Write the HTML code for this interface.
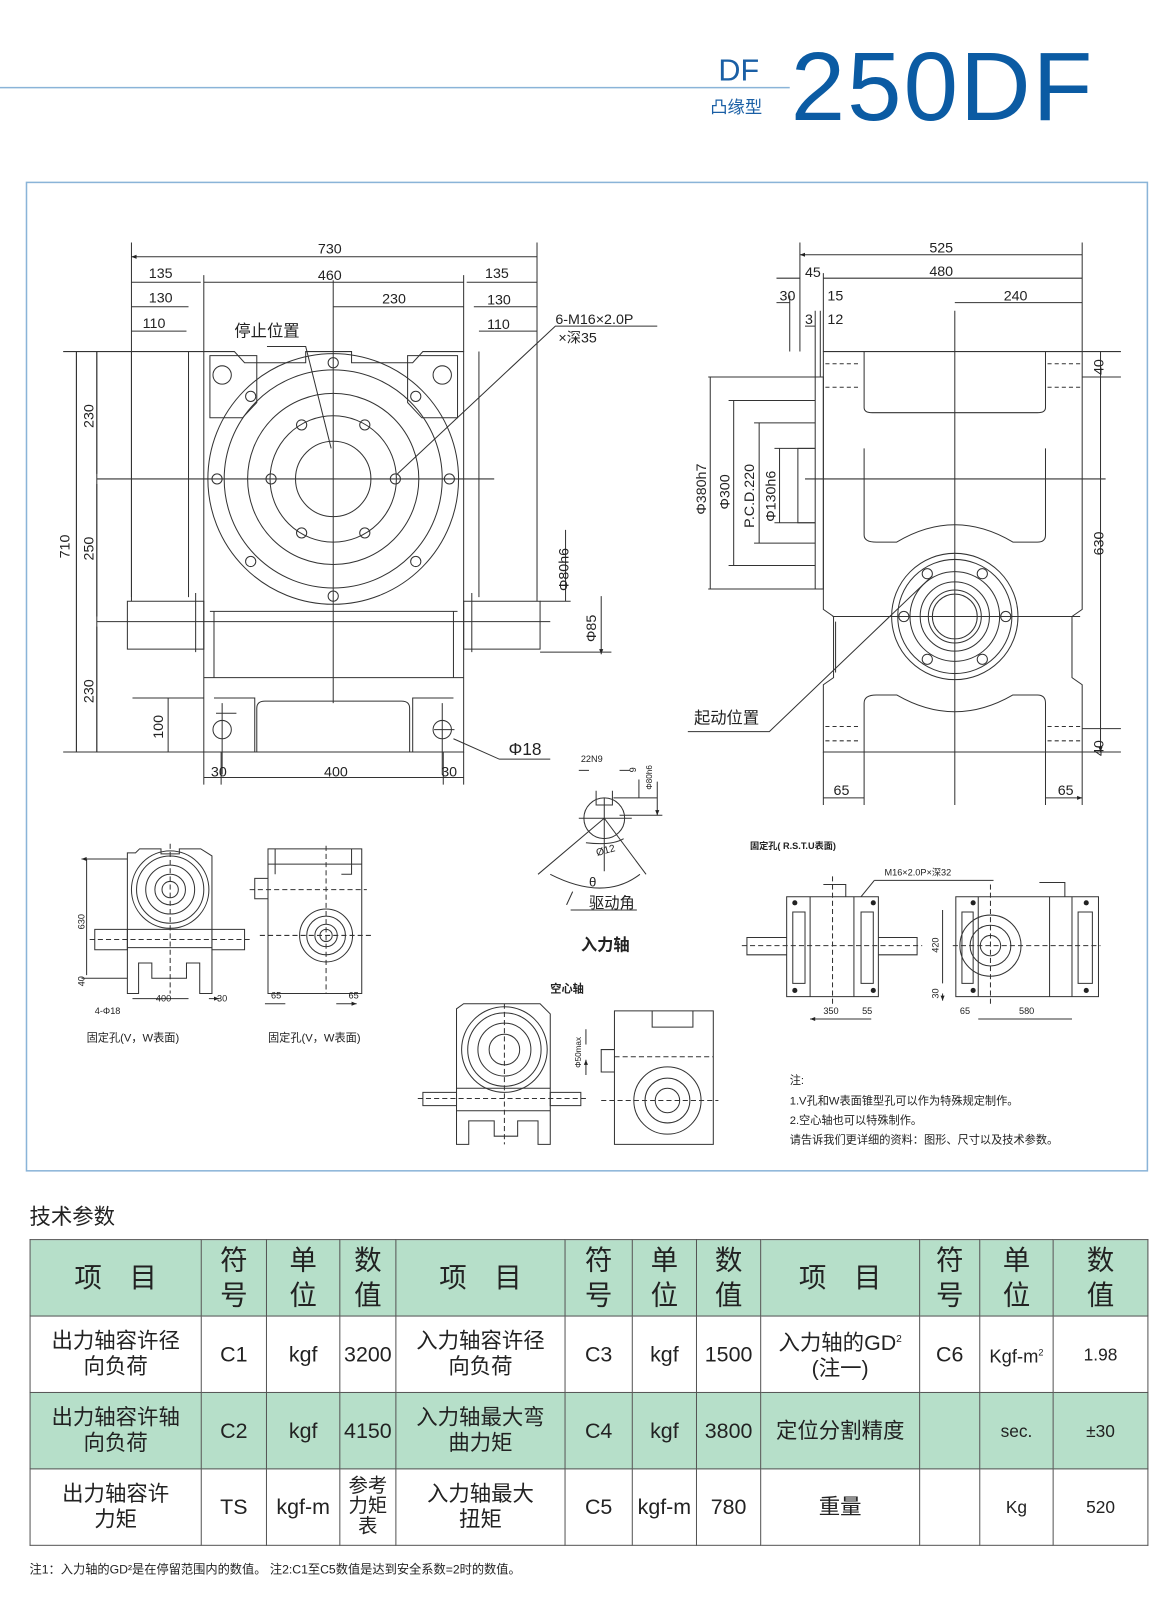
<!DOCTYPE html>
<html><head><meta charset="utf-8">
<style>
html,body{margin:0;padding:0;background:#fff;}
body{width:1174px;height:1599px;overflow:hidden;position:relative;font-family:"Liberation Sans","Noto Sans CJK SC",sans-serif;}
#w{position:absolute;left:0;top:0;width:1152px;height:1569px;transform:scale(1.019);transform-origin:0 0;}
svg text{font-family:"Liberation Sans","Noto Sans CJK SC",sans-serif;fill:#222;}
table{position:absolute;left:29px;top:1216px;border-collapse:collapse;table-layout:fixed;width:1097px;}
td{border:1.3px solid #555;text-align:center;vertical-align:middle;color:#222;font-size:21px;line-height:25px;height:74px;padding:0;}
tr.g td{background:#b6dfc9;}
tr.h td{font-size:27px;line-height:34px;}
</style></head><body><div id="w">
<svg width="1152" height="1569" viewBox="0 0 1152 1569" style="position:absolute;left:0;top:0">
<defs>
<marker id="a" viewBox="0 0 10 10" refX="10" refY="5" markerWidth="7" markerHeight="5" orient="auto-start-reverse"><path d="M0,1 L10,5 L0,9 z" fill="#222"/></marker>
</defs>
<!-- header -->
<line x1="0" y1="86" x2="775" y2="86" stroke="#8ab4d8" stroke-width="1.5"/>
<text x="705" y="79" font-size="30" style="fill:#1a5fa5" textLength="40">DF</text>
<text x="697" y="111" font-size="17" style="fill:#1a5fa5">凸缘型</text>
<text x="776" y="118" font-size="96" style="fill:#0b5ba3" textLength="296">250DF</text>
<rect x="26" y="179" width="1100" height="970" fill="none" stroke="#8ab4d8" stroke-width="1.5"/>

<g stroke="#333" stroke-width="1" fill="none">
<!-- FRONT VIEW -->
<path d="M200,345 H230 L240,356 H300 V345 H345 V356 H405 L415,345 H455 V738 H200 Z"/>
<path d="M206,349 H252 V395 L238,410 H206 Z M449,349 H400 V395 L414,410 H449 Z"/>
<circle cx="218" cy="368" r="9"/><circle cx="434" cy="368" r="9"/>
<circle cx="327" cy="470" r="123"/><circle cx="327" cy="470" r="107"/><circle cx="327" cy="470" r="84"/><circle cx="327" cy="470" r="62"/><circle cx="327" cy="470" r="37"/>
<g>
<circle cx="327" cy="356" r="5"/><circle cx="327" cy="585" r="5"/><circle cx="213" cy="470" r="5"/><circle cx="441" cy="470" r="5"/>
<circle cx="246" cy="389" r="5"/><circle cx="408" cy="389" r="5"/><circle cx="246" cy="551" r="5"/><circle cx="408" cy="551" r="5"/>
<circle cx="266" cy="470" r="5"/><circle cx="388" cy="470" r="5"/><circle cx="296" cy="417" r="5"/><circle cx="358" cy="417" r="5"/><circle cx="296" cy="523" r="5"/><circle cx="358" cy="523" r="5"/>
</g>
<path d="M206,600 H449 M200,665 H455 M210,600 V665 M445,600 V665"/>
<path d="M210,685 H250 V738 M445,685 H405 V738 M252,738 V695 Q252,688 260,688 H394 Q402,688 402,695 V738"/>
<circle cx="218" cy="716" r="9"/><circle cx="434" cy="716" r="9"/>
<path d="M129,345 V586 M185,345 V586 M125,590 H200 V637 H125 Z M192,582 V640 M455,590 H530 V637 H455 Z M470,345 V586 M527,345 V586 M463,582 V640"/>
<path d="M327,275 V690 M95,470 H485 M95,610 H540 M212,700 H232 M218,690 V760 M426,716 H446 M434,690 V760"/>
<!-- front dims -->
<path d="M129,238 V590 M527,238 V590 M200,270 V345 M455,270 V345 M62,345 H200 M62,738 H200 M75,345 V738 M95,345 V738"/>
<path d="M129,252 H527 M129,277 H197 M200,277 H455 M458,277 H527 M129,301 H185 M327,301 H455 M465,301 H527 M129,325 H183 M470,325 H527 M75,345 V738 M95,345 V465 M95,475 V605 M95,615 V738 M165,685 V738 M200,763 H455 M555,520 V590 M590,585 V642" marker-start="url(#a)" marker-end="url(#a)"/>
<path d="M130,685 H200 M200,738 V770 M217,738 V770 M435,738 V770 M455,738 V770 M530,590 H560 M530,640 H600"/>
<path d="M262,340 H300 L325,440 M390,465 L545,320 H645 M445,725 L490,745 H540"/>
<!-- SIDE VIEW -->
<path d="M808,345 H1062 V598 L1052,605 V665 L1062,672 V738 H808 V672 L818,665 V605 L808,598 Z"/>
<path d="M848,345 V400 Q848,405 856,405 H1018 Q1026,405 1026,400 V345 M848,440 V525 Q848,532 860,532 H880 Q937,498 994,532 H1018 Q1026,532 1026,525 V440"/>
<path d="M848,738 V690 Q848,682 860,682 H880 Q937,715 994,682 H1018 Q1026,682 1026,690 V738 M820,610 V660 M1052,610 V660"/>
<path d="M800,370 H808 V578 H800 Z M783,440 H800 V513 H783 Z"/>
<g stroke-dasharray="4,3"><path d="M810,357 H845 M810,380 H845 M1028,357 H1060 M1028,380 H1060 M810,713 H845 M810,727 H845 M1028,713 H1060 M1028,727 H1060"/></g>
<circle cx="937" cy="605" r="62"/><circle cx="937" cy="605" r="56"/><circle cx="937" cy="605" r="44"/><circle cx="937" cy="605" r="34"/><circle cx="937" cy="605" r="26"/><circle cx="937" cy="605" r="22"/>
<g><circle cx="887" cy="605" r="5"/><circle cx="987" cy="605" r="5"/><circle cx="910" cy="563" r="5"/><circle cx="964" cy="563" r="5"/><circle cx="910" cy="647" r="5"/><circle cx="964" cy="647" r="5"/></g>
<path d="M937,305 V790 M790,470 H1085 M817,605 H1060"/>
<path d="M785,238 V345 M1062,238 V345 M808,268 V345 M775,290 V345 M800,305 V370 M805,305 V370 M695,370 H808 M715,393 H800 M740,415 H800 M760,440 H800 M760,513 H800 M740,533 H800 M715,555 H800 M695,578 H808 M1062,345 H1100 M1062,370 H1100 M1062,715 H1100 M1062,738 H1100 M808,738 V790 M848,738 V790 M1026,738 V790 M1062,738 V790"/>
<path d="M785,250 H1062 M808,273 H1062 M937,297 H1062 M697,370 V578 M720,393 V555 M745,415 V533 M765,440 V513 M1080,370 V715 M808,783 H848 M1026,783 H1062" marker-start="url(#a)" marker-end="url(#a)"/>
<path d="M762,273 H785 M762,297 H775 M790,320 H800 M1080,345 V370 M1080,715 V738" marker-end="url(#a)"/>
<path d="M675,718 H755 L915,565"/>
<!-- INPUT SHAFT -->
<circle cx="593" cy="803" r="20"/>
<path d="M585,776 V790 H601 V776 M593,783 V855 M568,803 H620 M593,803 L528,858 M593,803 L634,858 M540,858 Q593,885 628,858 M575,827 Q600,830 612,823 M556,888 L562,875 M560,893 H625 M602,783 H645 M608,800 H650"/>
<path d="M568,756 H578 M618,756 H608 M627,765 V783 M645,767 V800" marker-end="url(#a)"/>
<!-- SMALL VIEW A -->
<path d="M125,837 H133 L137,833 H158 V838 H176 V833 H197 L208,840 V975 H196 V945 H183 V960 H149 V945 H136 V975 H125 Z"/>
<circle cx="167" cy="873" r="38"/><circle cx="167" cy="873" r="33"/><circle cx="167" cy="873" r="24"/><circle cx="167" cy="873" r="15"/><circle cx="167" cy="873" r="8"/>
<path d="M125,912 H208 M125,930 H208 M93,912 H125 V932 H93 Z M208,912 H240 V932 H208 Z"/>
<g stroke-dasharray="5,3"><path d="M88,922 H245 M167,828 V975"/></g>
<path d="M80,843 H125 M80,960 H125 M85,843 V957 M130,980 H185 M205,980 H215" marker-start="url(#a)" marker-end="url(#a)"/>
<!-- SMALL VIEW B -->
<path d="M263,833 H355 V975 H263 Z M263,848 H355 M270,858 V833 M335,858 H345 V833 M250,862 H263 V882 H250 Z"/>
<circle cx="320" cy="918" r="26"/><circle cx="320" cy="918" r="19"/><circle cx="320" cy="918" r="11"/><circle cx="320" cy="918" r="6"/>
<g stroke-dasharray="5,3"><path d="M245,873 H360 M320,830 V975 M255,918 H365"/></g>
<path d="M260,985 H280 M330,985 H350" marker-end="url(#a)"/>
<!-- HOLLOW -->
<path d="M448,990 L455,985 H530 L540,995 V1123 H528 V1100 H508 V1115 H485 V1100 H460 V1123 H448 Z"/>
<circle cx="495" cy="1030" r="42"/><circle cx="495" cy="1030" r="36"/><circle cx="495" cy="1030" r="26"/><circle cx="495" cy="1030" r="15"/>
<path d="M415,1072 H448 V1085 H415 Z M540,1072 H570 V1085 H540 Z M448,1068 H540 M448,1090 H540"/>
<g stroke-dasharray="5,3"><path d="M410,1078 H575 M495,985 V1123"/></g>
<path d="M603,992 H700 V1123 H603 Z M640,992 V1008 H680 V992 M590,1030 H603 V1052 H590 Z"/>
<circle cx="655" cy="1080" r="33"/><circle cx="655" cy="1080" r="22"/><circle cx="655" cy="1080" r="12"/>
<g stroke-dasharray="5,3"><path d="M603,1037 H700 M590,1080 H705"/></g>
<path d="M575,1010 V1025 M575,1055 V1040" marker-end="url(#a)"/>
<!-- R.S.T.U views -->
<path d="M772,880 H862 V978 H772 Z M795,880 V978 M838,880 V978 M778,895 H790 V965 H778 Z M845,895 H857 V965 H845 Z M808,868 H830 V880 M733,920 H772 V937 H733 Z M862,920 H900 V937 H862 Z"/>
<g stroke-dasharray="5,3"><path d="M728,928 H905 M817,860 V985"/></g>
<path d="M938,880 H1078 V978 H938 Z M960,880 V978 M1030,880 V978 M1052,880 V978 M944,895 H955 V965 H944 Z M1058,895 H1072 V965 H1058 Z M1020,866 H1045 V880"/>
<circle cx="972" cy="928" r="30"/><circle cx="972" cy="928" r="20"/><circle cx="972" cy="928" r="10"/>
<g stroke-dasharray="5,3"><path d="M935,928 H1080 M972,868 V985"/></g>
<path d="M795,1000 H838 M838,1000 H855 M960,1000 H1052 M925,893 V965 M925,975 V982" marker-start="url(#a)" marker-end="url(#a)"/>
<path d="M858,864 H975 M858,864 L845,880"/>
</g>
<g fill="#222">
<circle cx="780" cy="886" r="2.5"/><circle cx="857" cy="886" r="2.5"/><circle cx="780" cy="972" r="2.5"/><circle cx="857" cy="972" r="2.5"/>
<circle cx="955" cy="886" r="2.5"/><circle cx="1066" cy="886" r="2.5"/><circle cx="955" cy="972" r="2.5"/><circle cx="1066" cy="972" r="2.5"/>
</g>

<!-- front labels -->
<g font-size="14">
<text x="312" y="249">730</text><text x="146" y="273">135</text><text x="312" y="275">460</text><text x="476" y="273">135</text>
<text x="146" y="297">130</text><text x="375" y="298">230</text><text x="478" y="299">130</text>
<text x="140" y="322">110</text><text x="478" y="323">110</text>
<text x="207" y="762">30</text><text x="318" y="762">400</text><text x="433" y="762">30</text>
<text x="545" y="318">6-M16×2.0P</text><text x="548" y="336">×深35</text>
<text x="499" y="741" font-size="17">Φ18</text>
<text transform="translate(68,548) rotate(-90)">710</text>
<text transform="translate(92,420) rotate(-90)">230</text>
<text transform="translate(92,550) rotate(-90)">250</text>
<text transform="translate(92,690) rotate(-90)">230</text>
<text transform="translate(160,725) rotate(-90)">100</text>
<text transform="translate(558,580) rotate(-90)">Φ80h6</text>
<text transform="translate(585,630) rotate(-90)">Φ85</text>
<!-- side labels -->
<text x="912" y="248">525</text><text x="790" y="272">45</text><text x="912" y="271">480</text>
<text x="765" y="295">30</text><text x="812" y="295">15</text><text x="985" y="295">240</text>
<text x="790" y="318">3</text><text x="812" y="318">12</text>
<text transform="translate(693,505) rotate(-90)">Φ380h7</text>
<text transform="translate(716,500) rotate(-90)">Φ300</text>
<text transform="translate(740,518) rotate(-90)">P.C.D.220</text>
<text transform="translate(761,512) rotate(-90)">Φ130h6</text>
<text transform="translate(1083,545) rotate(-90)">630</text>
<text transform="translate(1083,368) rotate(-90)">40</text>
<text transform="translate(1083,742) rotate(-90)">40</text>
<text x="818" y="780">65</text><text x="1038" y="780">65</text>
</g>
<text x="230" y="330" font-size="16">停止位置</text>
<text x="681" y="710" font-size="16">起动位置</text>
<text x="570" y="748" font-size="9">22N9</text>
<text transform="translate(624,758) rotate(-90)" font-size="9">9</text>
<text transform="translate(640,775) rotate(-90)" font-size="8">Φ80h6</text>
<text x="586" y="840" font-size="10" transform="rotate(-15 586 840)">Ø12</text>
<text x="578" y="870" font-size="13">θ</text>
<text x="578" y="891" font-size="15">驱动角</text>
<text x="570" y="933" font-size="16" font-weight="bold">入力轴</text>
<text x="540" y="974" font-size="11" font-weight="bold">空心轴</text>
<text transform="translate(570,1048) rotate(-90)" font-size="8">Φ50max</text>
<g font-size="9">
<text transform="translate(83,912) rotate(-90)">630</text>
<text transform="translate(83,968) rotate(-90)">40</text>
<text x="153" y="983">400</text><text x="213" y="983">30</text>
<text x="93" y="995">4-Φ18</text>
<text x="266" y="980">65</text><text x="342" y="980">65</text>
<text x="808" y="995">350</text><text x="846" y="995">55</text>
<text x="942" y="995">65</text><text x="1000" y="995">580</text>
<text transform="translate(921,935) rotate(-90)">420</text>
<text transform="translate(921,980) rotate(-90)">30</text>
<text x="868" y="859">M16×2.0P×深32</text>
<text x="736" y="833" font-weight="bold">固定孔( R.S.T.U表面)</text>
</g>
<text x="85" y="1022" font-size="11">固定孔(V，W表面)</text>
<text x="263" y="1022" font-size="11">固定孔(V，W表面)</text>
<g font-size="11"><text x="775" y="1064">注:</text>
<text x="775" y="1084">1.V孔和W表面锥型孔可以作为特殊规定制作。</text>
<text x="775" y="1103">2.空心轴也可以特殊制作。</text>
<text x="775" y="1122">请告诉我们更详细的资料：图形、尺寸以及技术参数。</text></g>
<text x="29" y="1201" font-size="21">技术参数</text>
<text x="29" y="1544" font-size="12">注1：入力轴的GD²是在停留范围内的数值。   注2:C1至C5数值是达到安全系数=2时的数值。</text>
</svg>
<table>
<colgroup><col style="width:168px"><col style="width:64px"><col style="width:72px"><col style="width:55px"><col style="width:166px"><col style="width:66px"><col style="width:63px"><col style="width:63px"><col style="width:156px"><col style="width:59px"><col style="width:72px"><col style="width:93px"></colgroup>
<tr class="g h"><td>项　目</td><td>符<br>号</td><td>单<br>位</td><td>数<br>值</td><td>项　目</td><td>符<br>号</td><td>单<br>位</td><td>数<br>值</td><td>项　目</td><td>符<br>号</td><td>单<br>位</td><td>数<br>值</td></tr>
<tr><td>出力轴容许径<br>向负荷</td><td>C1</td><td>kgf</td><td>3200</td><td>入力轴容许径<br>向负荷</td><td>C3</td><td>kgf</td><td>1500</td><td>入力轴的GD<sup style="font-size:10px">2</sup><br>(注一)</td><td>C6</td><td style="font-size:18px">Kgf-m<sup style="font-size:9px">2</sup></td><td style="font-size:17px">1.98</td></tr>
<tr class="g"><td>出力轴容许轴<br>向负荷</td><td>C2</td><td>kgf</td><td>4150</td><td>入力轴最大弯<br>曲力矩</td><td>C4</td><td>kgf</td><td>3800</td><td>定位分割精度</td><td></td><td style="font-size:17px">sec.</td><td style="font-size:17px">±30</td></tr>
<tr><td>出力轴容许<br>力矩</td><td>TS</td><td>kgf-m</td><td style="font-size:19px;line-height:20px">参考<br>力矩<br>表</td><td>入力轴最大<br>扭矩</td><td>C5</td><td>kgf-m</td><td>780</td><td>重量</td><td></td><td style="font-size:17px">Kg</td><td style="font-size:17px">520</td></tr>
</table>
</div></body></html>
